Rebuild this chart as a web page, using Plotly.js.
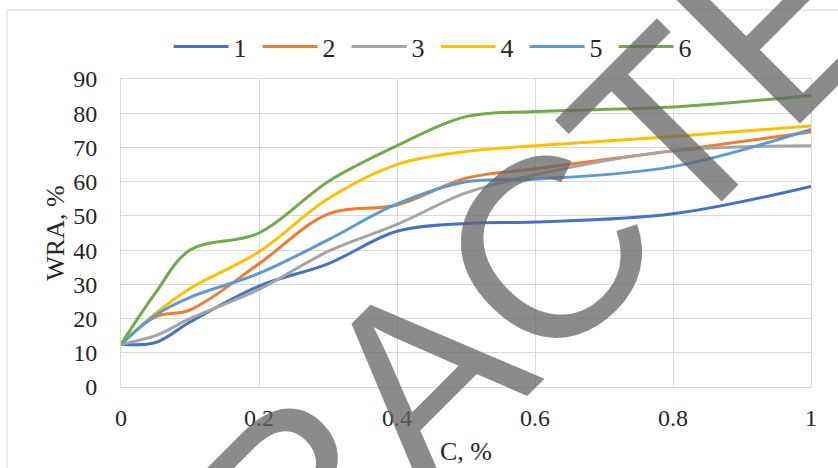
<!DOCTYPE html>
<html>
<head>
<meta charset="utf-8">
<script src="https://cdn.plot.ly/plotly-3.0.1.min.js"></script>
<style>html,body{margin:0;padding:0;background:#fff;}#chart{width:838px;height:468px;}</style>
</head>
<body>
<div id="chart"></div>
<script>
const concentration = [0, 0.05, 0.1, 0.2, 0.3, 0.4, 0.5, 0.6, 0.8, 1];
const series1 = [12.5, 13.0, 19.0, 29.5, 36.0, 45.5, 47.8, 48.2, 50.6, 58.6];
const series2 = [12.5, 20.5, 22.5, 36.0, 50.5, 53.2, 61.0, 63.8, 69.0, 74.5];
const series3 = [12.5, 15.0, 20.0, 28.5, 39.6, 47.5, 56.7, 62.0, 69.0, 70.5];
const series4 = [12.5, 21.5, 28.8, 39.5, 55.0, 65.0, 68.8, 70.5, 73.2, 76.3];
const series5 = [12.5, 21.0, 26.2, 33.2, 43.0, 53.5, 60.0, 60.7, 64.4, 75.3];
const series6 = [12.5, 27.5, 40.0, 45.0, 60.0, 70.5, 79.0, 80.5, 81.8, 85.2];
const seriesNames = ['1', '2', '3', '4', '5', '6'];
const seriesColors = ['#4472C4', '#ED7D31', '#A5A5A5', '#FFC000', '#5B9BD5', '#70AD47'];
const xTickVals = [0, 0.2, 0.4, 0.6, 0.8, 1];
const xTickText = ['0', '0.2', '0.4', '0.6', '0.8', '1'];
const yTickVals = [0, 10, 20, 30, 40, 50, 60, 70, 80, 90];
const watermarkText = 'RETRACTED';

const allSeries = [series1, series2, series3, series4, series5, series6];
const traces = allSeries.map((ys, i) => ({
  type: 'scatter', mode: 'lines', x: concentration, y: ys, name: seriesNames[i],
  line: {color: seriesColors[i], width: 3, shape: 'spline', smoothing: 1}
}));

const serif = 'Liberation Serif, Times New Roman, serif';
const textColor = '#262626';
const layout = {
  width: 838, height: 468,
  margin: {l: 121, r: 27, t: 79, b: 81},
  paper_bgcolor: '#fff', plot_bgcolor: '#fff',
  font: {family: serif, size: 24, color: textColor},
  showlegend: true,
  legend: {orientation: 'h', x: 0.069, xanchor: 'left', y: 1.105, yanchor: 'middle',
    font: {family: serif, size: 26, color: textColor}, entrywidth: 19, itemwidth: 55, traceorder: 'normal'},
  xaxis: {range: [0, 1], tickvals: xTickVals, ticktext: xTickText,
    showgrid: true, gridcolor: '#d9d9d9', gridwidth: 1, zeroline: false,
    showline: true, linecolor: '#d9d9d9', linewidth: 1, mirror: true,
    ticks: 'outside', ticklen: 9, tickcolor: 'rgba(0,0,0,0)',
    tickfont: {family: serif, size: 24, color: textColor},
    title: {text: 'C, %', font: {family: serif, size: 26, color: textColor}, standoff: 12}},
  yaxis: {range: [0, 90], tickvals: yTickVals,
    showgrid: true, gridcolor: '#d9d9d9', gridwidth: 1, zeroline: false,
    showline: true, linecolor: '#d9d9d9', linewidth: 1, mirror: true,
    ticks: 'outside', ticklen: 18, tickcolor: 'rgba(0,0,0,0)',
    tickfont: {family: serif, size: 24, color: textColor},
    title: {text: 'WRA, %', font: {family: serif, size: 26, color: textColor}, standoff: 1}},
  shapes: [{type: 'rect', xref: 'paper', yref: 'paper', x0: -0.1652, x1: 1.2, y0: -0.6, y1: 1.224,
    line: {color: '#d9d9d9', width: 1}, fillcolor: 'rgba(0,0,0,0)', layer: 'below'}],
  annotations: [{text: watermarkText, xref: 'paper', yref: 'paper', x: 0.4357, y: 0.0344,
    xanchor: 'center', yanchor: 'middle', showarrow: false, textangle: -45,
    font: {family: 'Liberation Sans, Arial, sans-serif', size: 255, color: 'rgba(100,100,100,0.75)'}}]
};
Plotly.newPlot('chart', traces, layout, {staticPlot: true, displayModeBar: false});
</script>
</body>
</html>
